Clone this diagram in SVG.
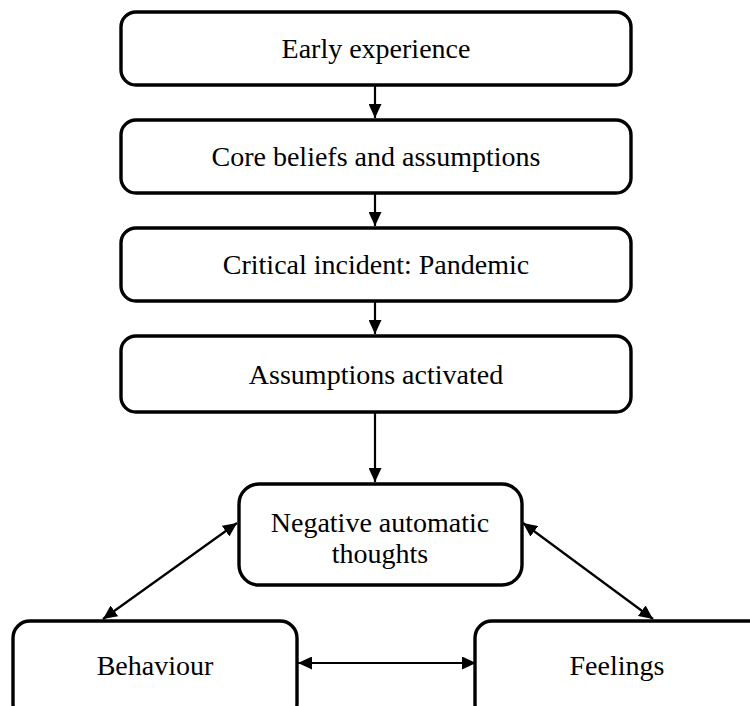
<svg xmlns="http://www.w3.org/2000/svg" width="750" height="706" viewBox="0 0 750 706">
<style>
.box{fill:#fff;stroke:#000;stroke-width:3.4}
.t{font-family:"Liberation Serif","Times New Roman",serif;font-size:28px;fill:#000;text-anchor:middle}
.c{stroke:#000;stroke-width:2.2;fill:none}
</style>
<defs>
<marker id="ah" viewBox="0 0 14 13" refX="14" refY="6.5" markerWidth="14" markerHeight="13" markerUnits="userSpaceOnUse" orient="auto-start-reverse">
<path d="M0,0 L14,6.5 L0,13 z" fill="#000"/>
</marker>
</defs>
<rect width="750" height="706" fill="#fff"/>
<g id="connectors">
<line class="c" x1="375" y1="86" x2="375" y2="118" marker-end="url(#ah)"/>
<line class="c" x1="375" y1="194" x2="375" y2="226" marker-end="url(#ah)"/>
<line class="c" x1="375" y1="302" x2="375" y2="334" marker-end="url(#ah)"/>
<line class="c" x1="375" y1="413" x2="375" y2="482" marker-end="url(#ah)"/>
<line class="c" x1="237" y1="523" x2="103" y2="619" marker-start="url(#ah)" marker-end="url(#ah)"/>
<line class="c" x1="523" y1="523" x2="653" y2="619" marker-start="url(#ah)" marker-end="url(#ah)"/>
<line class="c" x1="298" y1="663" x2="476" y2="663" marker-start="url(#ah)" marker-end="url(#ah)"/>
</g>
<g id="n1"><rect class="box" x="121" y="12" width="510" height="73" rx="15"/><text class="t" x="376" y="58">Early experience</text></g>
<g id="n2"><rect class="box" x="121" y="120" width="510" height="73" rx="15"/><text class="t" x="376" y="166">Core beliefs and assumptions</text></g>
<g id="n3"><rect class="box" x="121" y="228" width="510" height="73" rx="15"/><text class="t" x="376" y="274">Critical incident: Pandemic</text></g>
<g id="n4"><rect class="box" x="121" y="336" width="510" height="76" rx="15"/><text class="t" x="376" y="384">Assumptions activated</text></g>
<g id="n5"><rect class="box" x="239" y="484" width="283" height="101" rx="20"/><text class="t" x="380" y="532">Negative automatic</text><text class="t" x="380" y="563">thoughts</text></g>
<g id="n6"><rect class="box" x="13" y="621" width="284" height="100" rx="17"/><text class="t" x="155" y="675">Behaviour</text></g>
<g id="n7"><rect class="box" x="475" y="621" width="295" height="100" rx="17"/><text class="t" x="617" y="675">Feelings</text></g>
</svg>
